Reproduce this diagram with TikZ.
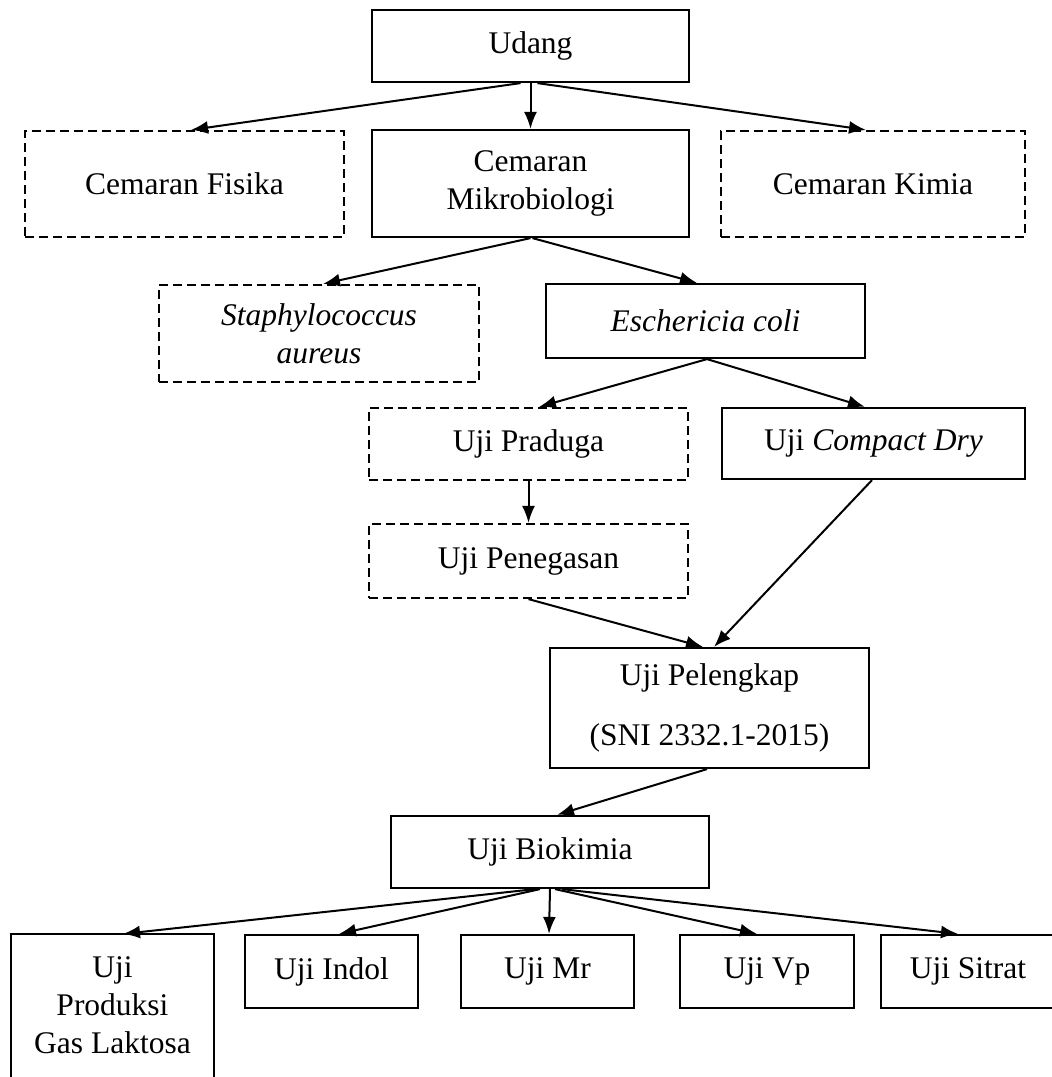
\documentclass[tikz,border=0pt]{standalone}
\usepackage{fontspec}
\setmainfont{Liberation Serif}
\usetikzlibrary{arrows.meta}
\begin{document}
\begin{tikzpicture}[x=1pt,y=-1pt,
  box/.style={draw, line width=2.2pt, inner sep=0pt, align=center, font=\fontsize{31.5}{38}\selectfont},
  solidbox/.style={box},
  dashbox/.style={box, dash pattern=on 9pt off 5pt},
  arr/.style={line width=2pt, -{Latex[length=17pt,width=13pt]}}]
\fill[white] (0,0) rectangle (1052,1077);
\clip (0,0) rectangle (1052,1077);
\useasboundingbox (0,0) rectangle (1052,1077);

% level 0
\node[solidbox, minimum width=317pt, minimum height=72pt] (udang) at (530.5,46) {Udang};
% level 1
\node[dashbox, minimum width=319pt, minimum height=106pt] (fisika) at (184.5,184) {Cemaran Fisika};
\node[solidbox, minimum width=317pt, minimum height=107pt] (mikro) at (530.5,183.5) {Cemaran\\Mikrobiologi};
\node[dashbox, minimum width=304pt, minimum height=106pt] (kimia) at (873,184) {Cemaran Kimia};
% level 2
\node[dashbox, minimum width=320pt, minimum height=97pt] (staph) at (319,333.5) {\textit{Staphylococcus}\\\textit{aureus}};
\node[solidbox, minimum width=319pt, minimum height=74pt] (ecoli) at (705.5,321) {\textit{Eschericia coli}};
% level 3
\node[dashbox, minimum width=319pt, minimum height=72pt] (praduga) at (528.5,444) {Uji Praduga};
\node[solidbox, minimum width=303pt, minimum height=71pt] (compact) at (873.5,443.5) {Uji \textit{Compact Dry}};
\node[dashbox, minimum width=319pt, minimum height=74pt] (penegasan) at (528.5,561) {Uji Penegasan};
% level 4
\node[solidbox, minimum width=319pt, minimum height=120pt] (pelengkap) at (709.5,708) {Uji Pelengkap\\[22pt](SNI 2332.1-2015)};
\node[solidbox, minimum width=318pt, minimum height=72pt] (biokimia) at (550,852) {Uji Biokimia};
% bottom row
\node[box, draw=none, minimum width=201pt, minimum height=140pt] (gas) at (112.5,1005) {Uji\\Produksi\\Gas Laktosa};
\draw[line width=2.2pt] ([yshift=-60pt]gas.south west) |- (gas.north east) -- ([yshift=-60pt]gas.south east);
\node[solidbox, minimum width=173pt, minimum height=73pt] (indol) at (331.5,971.5) {Uji Indol};
\node[solidbox, minimum width=173pt, minimum height=73pt] (mr) at (547.5,971.5) {Uji Mr};
\node[solidbox, minimum width=174pt, minimum height=73pt] (vp) at (767,971.5) {Uji Vp};
\node[solidbox, minimum width=174pt, minimum height=73pt] (sitrat) at (968,971.5) {Uji Sitrat};

% connectors
\draw[arr] ([xshift=-10pt]udang.south) -- ([xshift=6.5pt]fisika.north);
\draw[arr] (udang.south) -- (mikro.north);
\draw[arr] ([xshift=7pt]udang.south) -- ([xshift=-7pt]kimia.north);

\draw[arr] (mikro.south) -- ([xshift=4pt]staph.north);
\draw[arr] ([xshift=2pt]mikro.south) -- ([xshift=-8.5pt]ecoli.north);

\draw[arr] ([xshift=1.5pt]ecoli.south) -- ([xshift=10.5pt]praduga.north);
\draw[arr] ([xshift=1.5pt]ecoli.south) -- ([xshift=-8.5pt]compact.north);

\draw[arr] (praduga.south) -- (penegasan.north);
\draw[arr] (penegasan.south) -- ([xshift=-6.5pt]pelengkap.north);
\draw[arr] ([xshift=-1.5pt]compact.south) -- ([xshift=4.5pt]pelengkap.north);

\draw[arr] ([xshift=-2.5pt]pelengkap.south) -- ([xshift=7pt]biokimia.north);

\draw[arr] ([xshift=-15pt]biokimia.south) -- ([xshift=10.5pt]gas.north);
\draw[arr] ([xshift=-10pt]biokimia.south) -- ([xshift=7.5pt]indol.north);
\draw[arr] (biokimia.south) -- ([xshift=1.5pt]mr.north);
\draw[arr] ([xshift=5pt]biokimia.south) -- ([xshift=-10pt]vp.north);
\draw[arr] ([xshift=12pt]biokimia.south) -- ([xshift=-10pt]sitrat.north);
\end{tikzpicture}
\end{document}
